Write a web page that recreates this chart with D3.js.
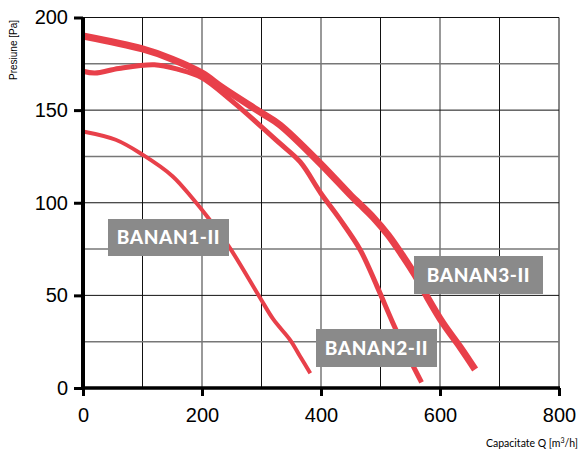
<!DOCTYPE html>
<html>
<head>
<meta charset="utf-8">
<script src="https://cdn.jsdelivr.net/npm/d3@7"></script>
<style>
  body { margin: 0; background: #fff; }
  svg { display: block; }
</style>
</head>
<body>
<div id="chart"></div>
<script>
// fan curves
var banan1Q = [0, 55, 100, 150, 185, 210, 247, 297, 320, 348, 365, 382];
var banan1P = [138.5, 134, 126, 114.5, 102, 92, 75.5, 49, 37, 26, 17, 8];

var banan2Q = [0, 20, 60, 120, 160, 200, 250, 300, 331, 365, 400, 432, 466, 494, 521, 550, 569];
var banan2P = [171, 170, 172.5, 174.5, 172, 167.5, 155, 141, 132, 122, 105, 91, 74.5, 55, 35, 15, 3];

var banan3Q = [0, 100, 150, 200, 235, 300, 331, 398, 450, 466, 488, 513, 538, 558, 577, 605, 634, 659];
var banan3P = [190, 183, 177.5, 170, 162, 148.5, 142, 121.5, 104, 99, 92, 82.5, 71, 61, 50, 35, 22, 10];

var xTicks = [0, 200, 400, 600, 800];
var yTicks = [0, 50, 100, 150, 200];
var xGrid = [100, 200, 300, 400, 500, 600, 700, 800];
var yGrid = [25, 50, 75, 100, 125, 150, 175, 200];

var labels = ["BANAN1-II", "BANAN2-II", "BANAN3-II"];
var red = "#e8404a";

var width = 581, height = 450;
var svg = d3.select("#chart").append("svg")
    .attr("width", width).attr("height", height);

var x = d3.scaleLinear().domain([0, 800]).range([83, 559]);
var y = d3.scaleLinear().domain([0, 200]).range([388, 17.5]);

// grid
svg.append("g").selectAll("line").data(xGrid).enter().append("line")
    .attr("x1", function (d) { return x(d); })
    .attr("x2", function (d) { return x(d); })
    .attr("y1", y(0)).attr("y2", y(200))
    .attr("stroke", function (d) { return (d % 200 === 0 && d !== 800) ? "#777" : "#111"; })
    .attr("stroke-width", function (d) { return (d % 200 === 0 && d !== 800) ? 1.5 : 1; });
svg.append("g").selectAll("line").data(yGrid).enter().append("line")
    .attr("y1", function (d) { return y(d); })
    .attr("y2", function (d) { return y(d); })
    .attr("x1", x(0)).attr("x2", x(800))
    .attr("stroke", function (d) { return (d % 50 === 0) ? "#111" : "#777"; })
    .attr("stroke-width", function (d) { return (d % 50 === 0) ? 1 : 1.5; });

// curves
var line = d3.line()
    .x(function (d) { return x(d[0]); })
    .y(function (d) { return y(d[1]); })
    .curve(d3.curveCatmullRom.alpha(0.5));

function pairs(q, p) {
    return q.map(function (v, i) { return [v, p[i]]; });
}

var series = [
    { pts: pairs(banan1Q, banan1P), w: 4 },
    { pts: pairs(banan2Q, banan2P), w: 5 },
    { pts: pairs(banan3Q, banan3P), w: 7 }
];
svg.append("g").selectAll("path").data(series).enter().append("path")
    .attr("d", function (d) { return line(d.pts); })
    .attr("fill", "none")
    .attr("stroke", red)
    .attr("stroke-width", function (d) { return d.w; })
    .attr("stroke-linejoin", "round");

// axes
var yAxis = d3.axisLeft(y).tickValues(yTicks).tickSize(9).tickPadding(6);
var xAxis = d3.axisBottom(x).tickValues(xTicks).tickSize(8).tickPadding(12);

var gy = svg.append("g").attr("transform", "translate(" + x(0) + ",0)").call(yAxis);
var gx = svg.append("g").attr("transform", "translate(0," + y(0) + ")").call(xAxis);
[gy, gx].forEach(function (g) {
    g.select(".domain").remove();
    g.selectAll(".tick line").attr("stroke", "#000").attr("stroke-width", 3);
    g.selectAll(".tick text").attr("fill", "#000")
        .style("font-family", "Liberation Sans, Arial, sans-serif")
        .style("font-size", "20px");
});
svg.append("line").attr("x1", x(0)).attr("x2", x(0))
    .attr("y1", y(200)).attr("y2", y(0) + 2)
    .attr("stroke", "#000").attr("stroke-width", 4);
svg.append("line").attr("x1", x(0) - 2).attr("x2", x(800) + 1)
    .attr("y1", y(0)).attr("y2", y(0))
    .attr("stroke", "#000").attr("stroke-width", 3.5);

// axis titles
svg.append("text")
    .attr("transform", "translate(17,50) rotate(-90)")
    .attr("text-anchor", "middle")
    .style("font-family", "Liberation Sans, Arial, sans-serif")
    .style("font-size", "10px")
    .text("Presiune [Pa]");
var xt = svg.append("text")
    .attr("x", 578).attr("y", 447)
    .attr("text-anchor", "end")
    .style("font-family", "Lato, 'Open Sans', sans-serif")
    .style("font-size", "10.5px")
    .text("Capacitate Q [m");
xt.append("tspan").attr("dy", -4).style("font-size", "7px").text("3");
xt.append("tspan").attr("dy", 4).text("/h]");

// name boxes
var boxes = [
    { name: labels[0], x0: 108, y0: 219, w: 121, h: 37 },
    { name: labels[1], x0: 316, y0: 329, w: 121, h: 38 },
    { name: labels[2], x0: 414, y0: 256, w: 129, h: 38 }
];
var gb = svg.append("g").selectAll("g").data(boxes).enter().append("g");
gb.append("rect")
    .attr("x", function (d) { return d.x0; })
    .attr("y", function (d) { return d.y0; })
    .attr("width", function (d) { return d.w; })
    .attr("height", function (d) { return d.h; })
    .attr("fill", "#8a8a8a");
gb.append("text")
    .attr("x", function (d) { return d.x0 + d.w / 2; })
    .attr("y", function (d) { return d.y0 + d.h / 2 + 6.5; })
    .attr("text-anchor", "middle")
    .attr("fill", "#fff")
    .style("font-family", "Lato, 'Open Sans', sans-serif")
    .style("font-weight", "900")
    .style("font-size", "19px")
    .style("letter-spacing", "0.6px")
    .text(function (d) { return d.name; });
</script>
</body>
</html>
